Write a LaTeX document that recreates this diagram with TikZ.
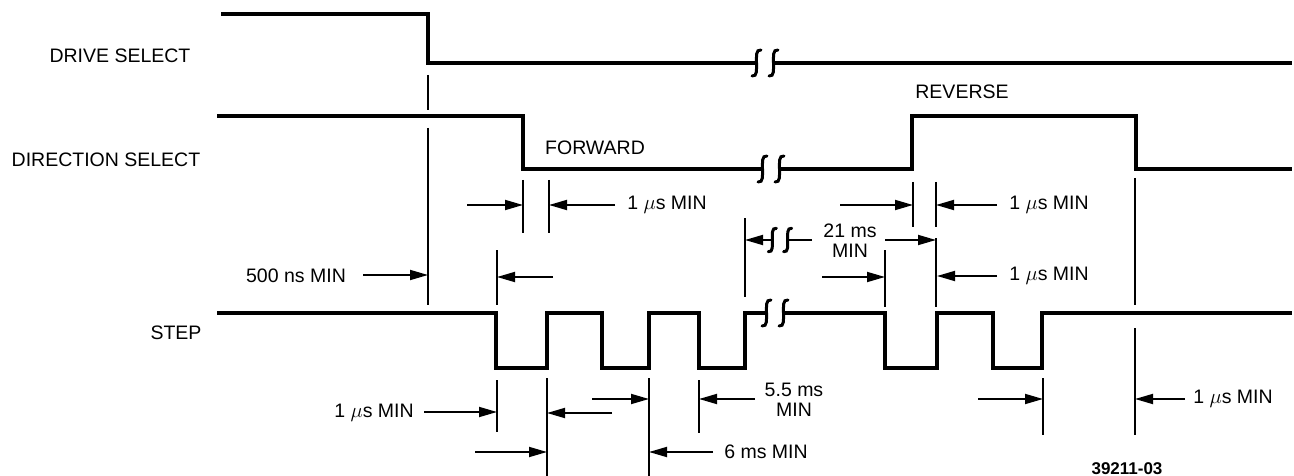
\documentclass[tikz,border=0pt]{standalone}
\usepackage{fontspec}
\setmainfont{Liberation Sans}
\usetikzlibrary{arrows.meta}
\begin{document}
\begin{tikzpicture}[x=1pt,y=-1pt,
  sig/.style={line width=3.2pt, line join=miter},
  refl/.style={line width=1.8pt},
  dim/.style={line width=1.8pt,-{Triangle[length=18pt,width=10pt]}},
  lbl/.style={font=\fontsize{19.5}{21}\selectfont, inner sep=0pt},
  brk/.pic={
    \foreach \dx in {-8.5,8.5} {
      \draw[line width=3pt, line cap=round] (\dx+4.5,-13) .. controls (\dx-1,-14) and (\dx,-6) .. (\dx,0) .. controls (\dx,6) and (\dx+1,14) .. (\dx-4.5,13);
    }
  }
]
\useasboundingbox (0,0) rectangle (1294,476);
\clip (0,0) rectangle (1294,476);

% labels
\node[lbl] (ds) at (120,56) {DRIVE SELECT};
\node[lbl] (dirs) at (106,160) {DIRECTION SELECT};
\node[lbl] (st) at (176,333) {STEP};
\node[lbl] (fw) at (595,148) {FORWARD};
\node[lbl] (rv) at (962,92) {REVERSE};

% DRIVE SELECT signal
\draw[sig] (221,14) -- (428,14) -- (428,63) -- (756.5,63);
\draw[sig] (773.5,63) -- (1292,63);
\pic at (765,63) {brk};

% DIRECTION SELECT signal
\draw[sig] (217,116) -- (523,116) -- (523,169) -- (762.5,169);
\draw[sig] (779.5,169) -- (912,169) -- (912,116) -- (1136,116) -- (1136,169) -- (1292,169);
\pic at (771,169) {brk};

% STEP signal
\draw[sig] (217,313) -- (496,313) -- (496,368) -- (547,368) -- (547,313) -- (602,313) -- (602,368) -- (649,368) -- (649,313) -- (699,313) -- (699,368) -- (745,368) -- (745,313) -- (766.5,313);
\draw[sig] (783.5,313) -- (885,313) -- (885,368) -- (937,368) -- (937,313) -- (993,313) -- (993,368) -- (1042,368) -- (1042,313) -- (1292,313);
\pic at (775,313) {brk};

% reference lines
\draw[refl] (428,75) -- (428,110);
\draw[refl] (428,128) -- (428,305);
\draw[refl] (523,180) -- (523,233);
\draw[refl] (549,180) -- (549,233);
\draw[refl] (497,250) -- (497,305);
\draw[refl] (497,380) -- (497,432);
\draw[refl] (745,218) -- (745,297);
\draw[refl] (913,182) -- (913,227);
\draw[refl] (936,182) -- (936,227);
\draw[refl] (936,238) -- (936,307);
\draw[refl] (885,250) -- (885,307);
\draw[refl] (1135,178) -- (1135,305);
\draw[refl] (1135,328) -- (1135,435);
\draw[refl] (547,378) -- (547,476);
\draw[refl] (649,378) -- (649,476);
\draw[refl] (699,380) -- (699,433);
\draw[refl] (1043,378) -- (1043,435);

% dimension arrows
\node[lbl] (t500) at (296,276) {500 ns MIN};
\draw[dim] (363,275) -- (428,275);
\draw[dim] (553,277) -- (497,277);

\draw[dim] (467,205) -- (523,205);
\draw[dim] (615,205) -- (549,205);
\node[lbl] (t1a) at (667,205) {1 $\mu$s MIN};

\draw[dim] (840,205) -- (913,205);
\draw[dim] (997,205) -- (936,205);
\node[lbl] (t1b) at (1049,205) {1 $\mu$s MIN};

\draw[line width=1.8pt] (812,240) -- (788,240);
\draw[dim] (772,240) -- (745,240);
\pic[scale=0.9] at (780,240) {brk};
\node[lbl] (t21a) at (850,231) {21 ms};
\node[lbl] (t21b) at (850,251) {MIN};
\draw[dim] (885,240) -- (936,240);

\draw[dim] (822,277) -- (885,277);
\draw[dim] (997,276) -- (937,276);
\node[lbl] (t1c) at (1049,276) {1 $\mu$s MIN};

\node[lbl] (t1d) at (374,413) {1 $\mu$s MIN};
\draw[dim] (424,412) -- (497,412);
\draw[dim] (612,413) -- (547,413);

\draw[dim] (592,399) -- (649,399);
\draw[dim] (755,399) -- (699,399);
\node[lbl] (t55a) at (794,390) {5.5 ms};
\node[lbl] (t55b) at (794,410) {MIN};

\draw[dim] (475,452) -- (547,452);
\draw[dim] (713,452) -- (649,452);
\node[lbl] (t6) at (766,452) {6 ms MIN};

\draw[dim] (978,399) -- (1043,399);
\draw[dim] (1185,399) -- (1135,399);
\node[lbl] (t1e) at (1233,399) {1 $\mu$s MIN};

\node[lbl, font=\bfseries\fontsize{17}{20}\selectfont, anchor=south] (code) at (1127,475) {39211-03};
\end{tikzpicture}
\end{document}
